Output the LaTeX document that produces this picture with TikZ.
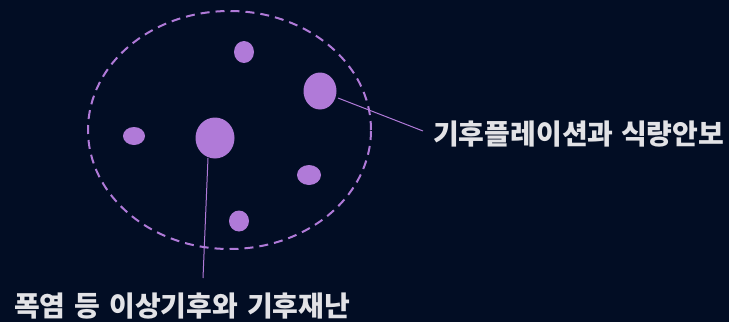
\documentclass[tikz,border=0pt]{standalone}
\usepackage{fontspec}
\newfontfamily\kr{Noto Sans CJK KR}
\newfontfamily\krw{Noto Sans CJK KR}[WordSpace=1.18]
\usetikzlibrary{shapes.geometric}
\definecolor{bg}{HTML}{020D24}
\definecolor{pur}{HTML}{B07AD8}
\definecolor{txt}{HTML}{E2E2E6}
\tikzset{
  blob/.style={ellipse, fill=pur, draw=none, inner sep=0pt},
  lbl/.style={text=txt, font=\kr\bfseries\fontsize{28}{32}\selectfont, inner sep=0pt, anchor=west},
  lblw/.style={lbl, font=\krw\bfseries\fontsize{28}{32}\selectfont},
  conn/.style={draw=pur, line width=1pt},
}
\begin{document}
\begin{tikzpicture}[x=1pt,y=1pt]
\fill[bg] (0,0) rectangle (729,-322);
\useasboundingbox (0,0) rectangle (729,-322);
\draw[pur, line width=2pt, dash pattern=on 9pt off 6pt] (229.5,-130) ellipse [x radius=141.5, y radius=119];
\node[blob, minimum width=20pt, minimum height=22pt] (b1) at (244,-52) {};
\node[blob, minimum width=33pt, minimum height=37pt] (b2) at (320,-91) {};
\node[blob, minimum width=22pt, minimum height=18pt] (b3) at (134,-136) {};
\node[blob, minimum width=39pt, minimum height=41pt] (b4) at (215,-138) {};
\node[blob, minimum width=24pt, minimum height=20pt] (b5) at (309,-175) {};
\node[blob, minimum width=20pt, minimum height=21pt] (b6) at (239,-221) {};
\node[lbl] (l1) at (433,-134) {기후플레이션과 식량안보};
\node[lblw] (l2) at (14,-306) {폭염 등 이상기후와 기후재난};
\coordinate (c1) at (338,-98);
\coordinate (c2) at (423,-131);
\coordinate (c3) at (208,-158);
\coordinate (c4) at (203,-278);
\draw[conn] (c1) -- (c2);
\draw[conn] (c3) -- (c4);
\end{tikzpicture}
\end{document}
